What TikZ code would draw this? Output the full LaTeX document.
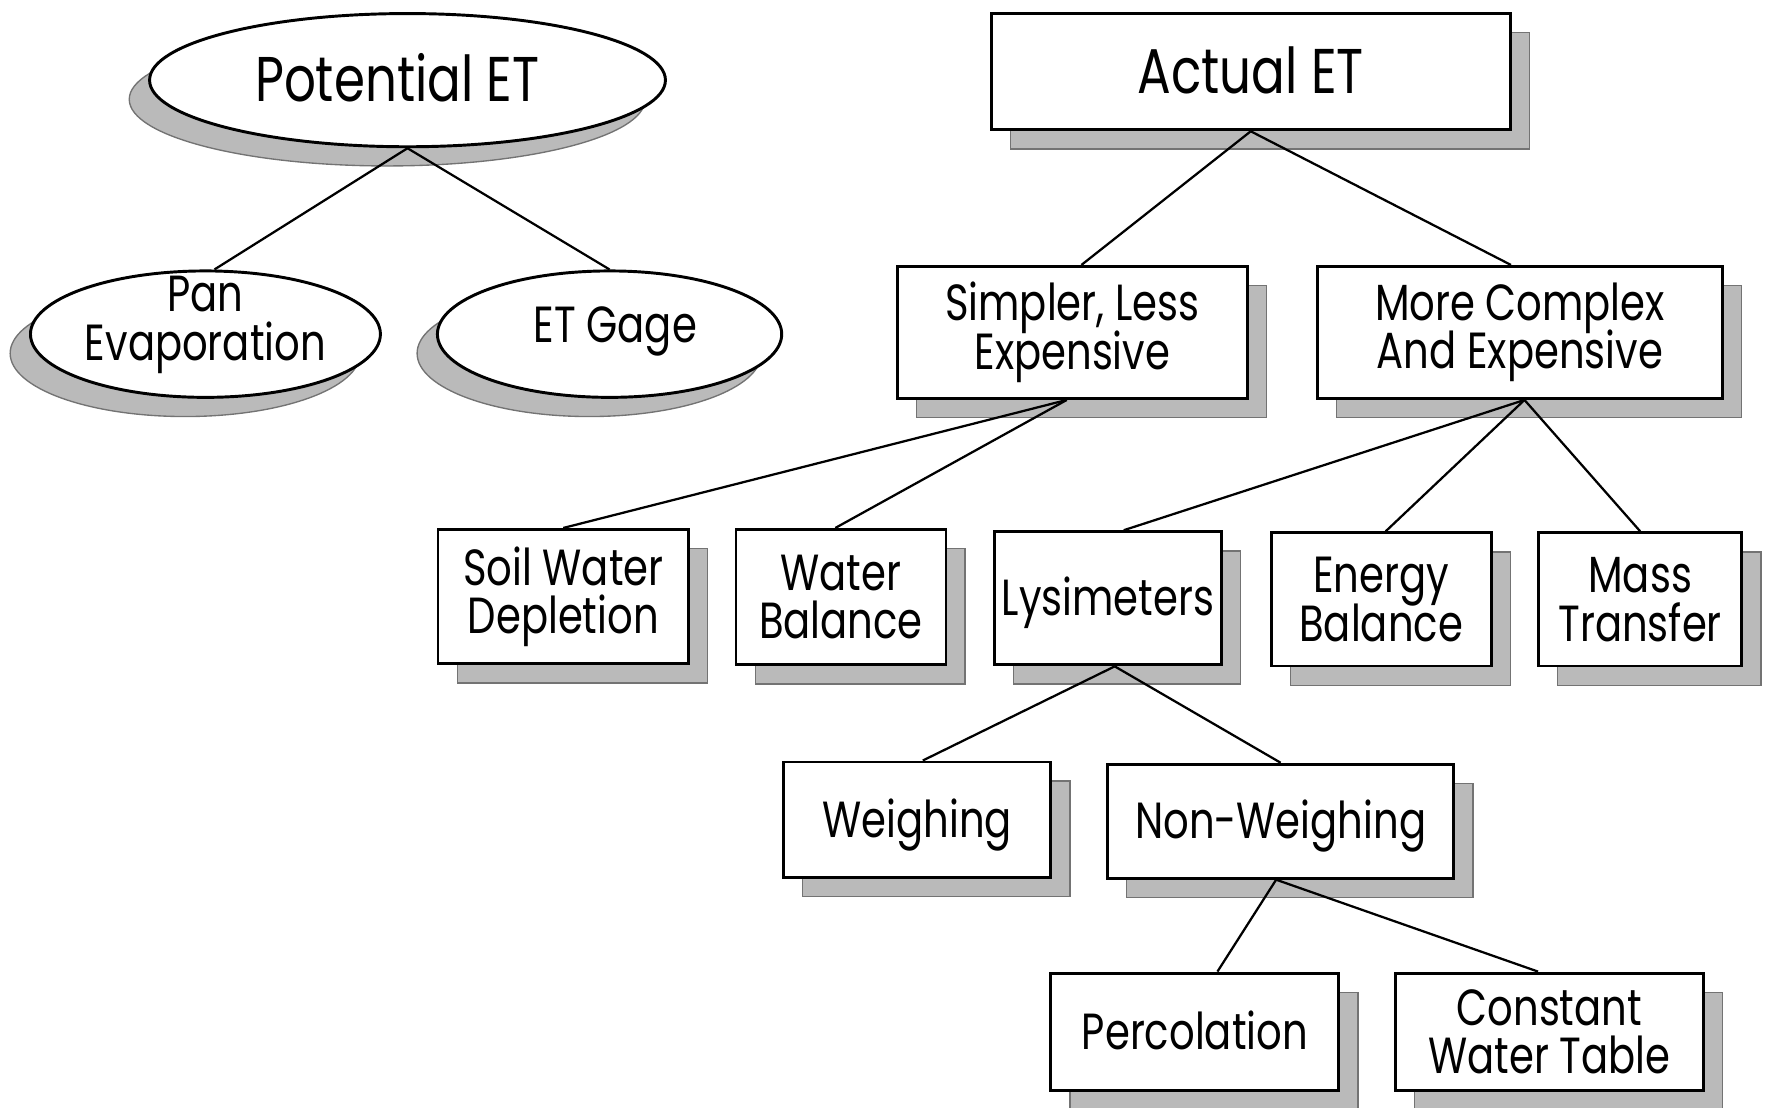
\documentclass[tikz,border=0pt]{standalone}
\usepackage{fontspec}
\setmainfont{Poppins}[FakeStretch=0.79]
\usetikzlibrary{shapes.geometric,shadows}
\newcommand{\smallfnt}{\fontsize{22.5}{21.5}\selectfont\lineskiplimit=-20pt\lineskip=0pt}
\newcommand{\bigfnt}{\fontsize{28}{24}\selectfont\lineskiplimit=-20pt\lineskip=0pt}
\begin{document}
\begin{tikzpicture}[x=0.5pt,y=-0.5pt,
  shadowfill/.style={fill=black!27, draw=black!55, line width=0.6pt},
  box/.style={draw, line width=1.3pt, fill=white, align=center, inner sep=0pt,
    font=\smallfnt,
    drop shadow={shadow xshift=8.5pt, shadow yshift=-8.5pt, shadowfill, opacity=1}},
  bigbox/.style={box, font=\bigfnt},
  oneline/.style={text height=19.5pt, text depth=4pt},
  bigoneline/.style={text height=23.5pt, text depth=4pt},
  oval/.style={ellipse, draw, line width=1.3pt, fill=white, inner sep=0pt,
    drop shadow={shadow xshift=-9pt, shadow yshift=-8.5pt, shadowfill, opacity=1}},
  lbl/.style={align=center, inner sep=0pt, font=\smallfnt},
  biglbl/.style={lbl, font=\bigfnt},
  link/.style={line width=1pt}]
\useasboundingbox (0,0) rectangle (1568,981);

% Potential ET branch
\node[oval, minimum width=228.5pt, minimum height=59pt] (pot) at (361,71) {};
\node[biglbl] (pot-t) at (352,69) {Potential ET};
\node[oval, minimum width=155pt, minimum height=56pt] (pan) at (182,296) {};
\node[lbl] (pan-t) at (182,288) {Pan\\Evaporation};
\node[oval, minimum width=152.5pt, minimum height=56pt] (gage) at (540,296) {};
\node[lbl] (gage-t) at (545,294) {ET Gage};

% Actual ET branch
\node[bigbox, bigoneline, minimum width=230pt, minimum height=51.5pt] (act) at (1108,63.5) {Actual ET};
\node[box, minimum width=155pt, minimum height=58.5pt] (simp) at (950,294.5) {Simpler, Less\\Expensive};
\node[box, minimum width=179.5pt, minimum height=58.5pt] (comp) at (1346.5,294.5) {More Complex\\And Expensive};

\node[box, minimum width=111pt, minimum height=59.5pt] (soil) at (499,528.5) {Soil Water\\Depletion};
\node[box, minimum width=93pt, minimum height=60pt] (wbal) at (745,529) {Water\\Balance};
\node[box, oneline, minimum width=100.5pt, minimum height=59pt] (lys) at (981.5,530) {Lysimeters};
\node[box, minimum width=97.5pt, minimum height=59pt] (ebal) at (1223.5,531) {Energy\\Balance};
\node[box, minimum width=90pt, minimum height=59pt] (mass) at (1453,531) {Mass\\Transfer};

\node[box, oneline, minimum width=118.5pt, minimum height=51pt] (weigh) at (812.5,726) {Weighing};
\node[box, oneline, minimum width=153.5pt, minimum height=50.5pt] (nonw) at (1134.5,727.5) {Non-Weighing};

\node[box, oneline, minimum width=127.5pt, minimum height=52pt] (perc) at (1058.5,914) {Percolation};
\node[box, minimum width=136.5pt, minimum height=52pt] (cwt) at (1372.5,914) {Constant\\Water Table};

% connectors
\draw[link] (pot.south) -- ([xshift=4pt]pan.north);
\draw[link] (pot.south) -- (gage.north);
\draw[link] (act.south) -- ([xshift=4pt]simp.north);
\draw[link] (act.south) -- ([xshift=-4pt]comp.north);
\draw[link] ([xshift=-2.5pt]simp.south) -- (soil.north);
\draw[link] ([xshift=-2.5pt]simp.south) -- ([xshift=-2.5pt]wbal.north);
\draw[link] ([xshift=2pt]comp.south) -- ([xshift=7pt]lys.north);
\draw[link] ([xshift=2pt]comp.south) -- ([xshift=2pt]ebal.north);
\draw[link] ([xshift=2pt]comp.south) -- (mass.north);
\draw[link] ([xshift=3pt]lys.south) -- ([xshift=2.5pt]weigh.north);
\draw[link] ([xshift=3pt]lys.south) -- (nonw.north);
\draw[link] ([xshift=-2pt]nonw.south) -- ([xshift=10pt]perc.north);
\draw[link] ([xshift=-2pt]nonw.south) -- ([xshift=-5pt]cwt.north);
\end{tikzpicture}
\end{document}
